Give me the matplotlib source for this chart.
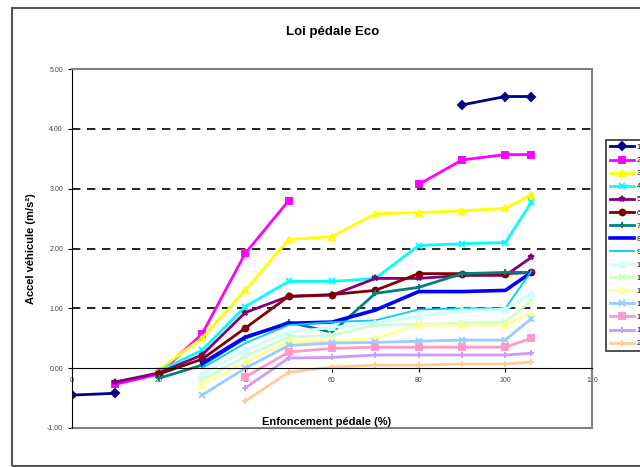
import matplotlib
matplotlib.use("Agg")
import matplotlib.pyplot as plt
import numpy as np

plt.rcParams['font.family'] = ['Liberation Sans', 'DejaVu Sans']

nan = np.nan
# pedal position (%)
pedal = [0, 10, 20, 30, 40, 50, 60, 70, 80, 90, 100, 106]
# one series per vehicle speed
speeds = ['10 km/h', '20 km/h', '30 km/h', '40 km/h', '50 km/h', '60 km/h', '70 km/h', '80 km/h',
          '90 km/h', '100 km/h', '110 km/h', '120 km/h', '140 km/h', '160 km/h', '180 km/h', '200 km/h']
acc_10 = [-0.45, -0.42, nan, nan, nan, nan, nan, nan, nan, 4.40, 4.54, 4.54]
acc_20 = [nan, -0.27, -0.10, 0.57, 1.92, 2.80, nan, nan, 3.07, 3.48, 3.57, 3.57]
acc_30 = [nan, nan, -0.03, 0.50, 1.30, 2.15, 2.20, 2.58, 2.60, 2.63, 2.67, 2.90]
acc_40 = [nan, nan, -0.05, 0.30, 1.03, 1.45, 1.45, 1.50, 2.05, 2.08, 2.10, 2.77]
acc_50 = [nan, -0.23, -0.08, 0.22, 0.93, 1.20, 1.22, 1.50, 1.50, 1.55, 1.55, 1.85]
acc_60 = [nan, nan, -0.10, 0.15, 0.67, 1.20, 1.23, 1.30, 1.58, 1.58, 1.58, 1.60]
acc_70 = [nan, nan, -0.17, 0.05, 0.50, 0.77, 0.60, 1.25, 1.35, 1.58, 1.60, 1.60]
acc_80 = [nan, nan, nan, 0.08, 0.52, 0.75, 0.77, 0.97, 1.28, 1.28, 1.30, 1.60]
acc_90 = [nan, nan, nan, 0.00, 0.42, 0.72, 0.77, 0.80, 0.98, 1.00, 1.00, 1.62]
acc_100 = [nan, nan, nan, -0.10, 0.30, 0.60, 0.68, 0.75, 0.87, 0.97, 0.98, 1.25]
acc_110 = [nan, nan, nan, -0.20, 0.20, 0.52, 0.55, 0.72, 0.73, 0.75, 0.77, 1.13]
acc_120 = [nan, nan, nan, -0.28, 0.10, 0.45, 0.45, 0.50, 0.72, 0.72, 0.72, 0.93]
acc_140 = [nan, nan, nan, -0.45, 0.00, 0.38, 0.42, 0.43, 0.45, 0.47, 0.47, 0.83]
acc_160 = [nan, nan, nan, nan, -0.15, 0.27, 0.33, 0.35, 0.35, 0.35, 0.35, 0.50]
acc_180 = [nan, nan, nan, nan, -0.33, 0.17, 0.18, 0.22, 0.22, 0.22, 0.22, 0.25]
acc_200 = [nan, nan, nan, nan, -0.55, -0.07, 0.02, 0.05, 0.05, 0.07, 0.07, 0.10]
all_acc = [acc_10, acc_20, acc_30, acc_40, acc_50, acc_60, acc_70, acc_80,
           acc_90, acc_100, acc_110, acc_120, acc_140, acc_160, acc_180, acc_200]

# excel-ish default palette and markers
colors = ['#000080', '#FF00FF', '#FFFF00', '#00FFFF', '#800080', '#800000', '#008080', '#0000FF',
          '#00CCFF', '#CCFFFF', '#CCFFCC', '#FFFF99', '#99CCFF', '#FF99CC', '#CC99FF', '#FFCC99']
markers = ['D', 's', '^', 'x', '*', 'o', '+', None, None, '^', 'x', '^', 'x', 's', '+', '+']
widths = [2, 2, 2, 2, 2, 2, 2, 2.6, 1.3, 2, 2, 2, 2, 2, 2, 2]

fig = plt.figure(figsize=(6.4, 4.67), dpi=100)
fig.patches.append(plt.Rectangle((12 / 640, 1 - 466 / 467), 1.0, 458 / 467, transform=fig.transFigure,
                                 fill=False, edgecolor='#555555', linewidth=1.5))
ax = fig.add_axes([72 / 640, 1 - 428 / 467, 520 / 640, 359 / 467])

for acc, lab, c, m, lw in zip(all_acc, speeds, colors, markers, widths):
    ax.plot(pedal, acc, color=c, marker=m, markersize=4.2, markeredgewidth=1.4, linewidth=lw, label=lab)

ax.set_xlim(0, 120)
ax.set_ylim(-1, 5)
ax.set_xticks(range(0, 121, 20))
ax.set_yticks(range(-1, 6))
ax.set_yticklabels([f'{v:.2f}' for v in range(-1, 6)])
for yv in [1, 2, 3, 4]:
    ax.axhline(yv, color='black', linestyle=(0, (5, 4)), linewidth=1.2, zorder=0)
ax.axhline(-1, color='#808080', linewidth=1.5, clip_on=False)

ax.spines['bottom'].set_position(('data', 0))
ax.spines['bottom'].set_color('black')
ax.spines['left'].set_color('black')
for s in ['top', 'right']:
    ax.spines[s].set_color('#808080')
    ax.spines[s].set_linewidth(1.5)
ax.tick_params(axis='both', labelsize=5, colors='black', labelcolor='#444444', length=3, direction='out')

ax.set_xlabel('Enfoncement pédale (%)', fontsize=8, fontweight='bold', labelpad=0)
ax.xaxis.set_label_coords(0.49, (428 - 410) / 359 - 0.02)
ax.set_ylabel('Accel véhicule (m/s²)', fontsize=8, fontweight='bold')
ax.yaxis.set_label_coords(-0.07, 0.5)
fig.text(333 / 640, 1 - 32 / 467, 'Loi pédale Eco', ha='center', va='center', fontsize=9.5, fontweight='bold')

# legend runs off the right edge, as in the original screenshot
leg = fig.legend(loc='upper left', bbox_to_anchor=(606 / 640, 1 - 140 / 467), fontsize=5.5,
                 frameon=True, fancybox=False, edgecolor='black', handlelength=3.2,
                 handletextpad=0.3, labelspacing=0.75, borderpad=0.5, borderaxespad=0)
leg.get_frame().set_linewidth(1.2)

fig.savefig('out.png', dpi=100)
